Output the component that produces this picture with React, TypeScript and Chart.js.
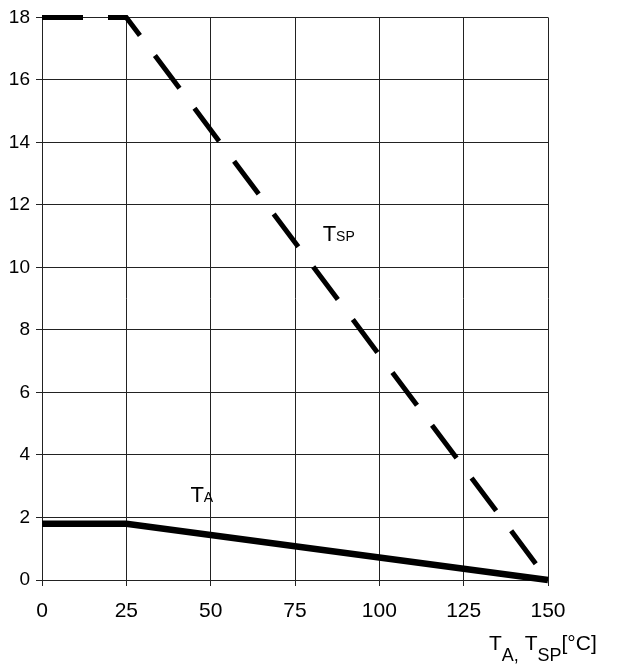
import React, { useEffect, useRef } from "react";
import { Chart, registerables } from "chart.js";

Chart.register(...registerables);

// Data
const xValues = [0, 25, 150];
const taValues = [1.8, 1.8, 0];
const tspValues = [18, 18, 0];
const xTickStep = 25;
const yTickStep = 2;
const xMin = 0;
const xMax = 150;
const yMin = 0;
const yMax = 18;

const FONT = '"Liberation Sans", Arial, Helvetica, sans-serif';
const GRID = "#222222";

type Part = [string, number, number];

function drawParts(ctx: CanvasRenderingContext2D, parts: Part[], x: number, y: number) {
  let cx = x;
  for (const [text, size, dy] of parts) {
    ctx.font = `${size}px ${FONT}`;
    ctx.fillText(text, cx, y + dy);
    cx += ctx.measureText(text).width;
  }
}

const labelPlugin = {
  id: "labels",
  afterDatasetsDraw(chart: any) {
    const ctx: CanvasRenderingContext2D = chart.ctx;
    const xs = chart.scales.x;
    const ys = chart.scales.y;
    ctx.save();
    ctx.fillStyle = "#000";
    ctx.textBaseline = "alphabetic";
    ctx.textAlign = "left";
    // T_A label
    drawParts(ctx, [["T", 22, 0], ["A", 14, 0]], xs.getPixelForValue(44), ys.getPixelForValue(2.48));
    // T_SP label
    drawParts(ctx, [["T", 22, 0], ["SP", 14, 0]], xs.getPixelForValue(83.2), ys.getPixelForValue(10.85));
    // axis title
    const area = chart.chartArea;
    drawParts(
      ctx,
      [["T", 21, 0], ["A,", 18, 11], [" T", 21, 0], ["SP", 18, 11], ["[°C]", 21, 0]],
      area.right - 59,
      area.bottom + 70
    );
    ctx.restore();
  },
};

export default function App() {
  const ref = useRef<HTMLCanvasElement | null>(null);

  useEffect(() => {
    if (!ref.current) return;
    const chart = new Chart(ref.current, {
      type: "line",
      data: {
        datasets: [
          {
            label: "T_SP",
            data: xValues.map((x, i) => ({ x, y: tspValues[i] })),
            borderColor: "#000",
            borderWidth: 5,
            borderDash: [41, 25],
            borderCapStyle: "butt",
            pointRadius: 0,
            fill: false,
            tension: 0,
            clip: false,
          },
          {
            label: "T_A",
            data: xValues.map((x, i) => ({ x, y: taValues[i] })),
            borderColor: "#000",
            borderWidth: 6.5,
            borderCapStyle: "butt",
            pointRadius: 0,
            fill: false,
            tension: 0,
            clip: false,
          },
        ],
      },
      options: {
        responsive: false,
        animation: false,
        layout: { padding: { top: 16, right: 80, left: 0, bottom: 0 } },
        plugins: { legend: { display: false }, tooltip: { enabled: false }, title: { display: false } },
        scales: {
          x: {
            type: "linear",
            min: xMin,
            max: xMax,
            ticks: { stepSize: xTickStep, color: "#000", font: { size: 21, family: FONT }, padding: 13, maxRotation: 0 },
            grid: { color: GRID, lineWidth: 1, tickLength: 6, tickColor: GRID },
            border: { color: GRID, width: 1 },
            afterFit: (s: any) => {
              s.height = 88;
            },
          },
          y: {
            type: "linear",
            min: yMin,
            max: yMax,
            ticks: { stepSize: yTickStep, color: "#000", font: { size: 19, family: FONT }, padding: 6 },
            grid: { color: GRID, lineWidth: 1, tickLength: 6, tickColor: GRID },
            border: { color: GRID, width: 1 },
            afterFit: (s: any) => {
              s.width = 42;
            },
          },
        },
      },
      plugins: [labelPlugin],
    } as any);
    return () => chart.destroy();
  }, []);

  return (
    <div style={{ position: "absolute", left: 0, top: 0, width: 628, height: 668, background: "#fff" }}>
      <canvas ref={ref} width={628} height={668} />
    </div>
  );
}
